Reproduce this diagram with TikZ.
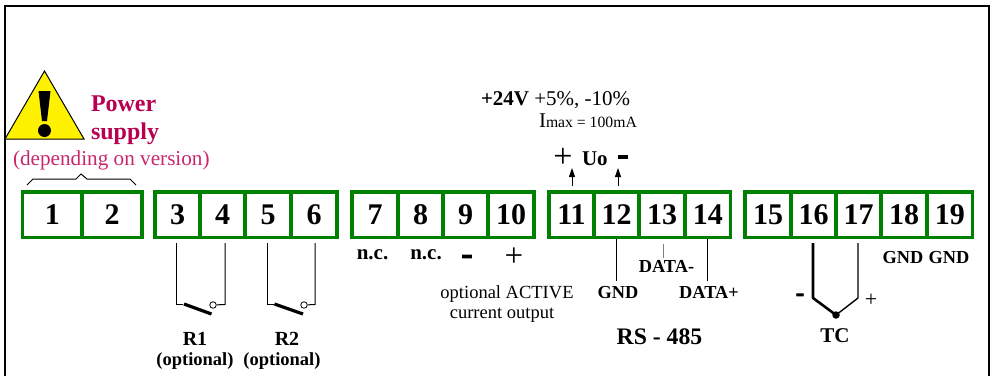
\documentclass[tikz,border=0pt]{standalone}
\usepackage{fontspec}
\setmainfont{Liberation Serif}
\usetikzlibrary{arrows.meta}
\definecolor{termgreen}{RGB}{0,128,0}
\definecolor{powerred}{RGB}{184,0,80}
\definecolor{verpink}{RGB}{200,40,106}
\newcommand{\fsz}[1]{\fontsize{#1pt}{#1pt}\selectfont}
\newcommand{\heavy}{\addfontfeature{FakeBold=2.5}}
\newcommand{\cellnode}[4]{\node[cell,minimum width={(#3-#2)*1pt}] (#1) at ({(#2+#3)/2},214.5) {#4};}
\tikzset{
  cell/.style={draw=termgreen,line width=3.5pt,minimum height=45.5pt,inner sep=0pt,outer sep=0pt,
    text height=20pt,text depth=0pt,font=\bfseries\fsz{30}},
  lbl/.style={inner sep=0pt,outer sep=0pt,anchor=base},
  lbll/.style={inner sep=0pt,outer sep=0pt,anchor=base west},
  bold18/.style={lbl,font=\bfseries\fsz{18.3}},
  wire/.style={black,line width=1pt},
  blade/.style={black,line width=3.2pt},
  upar/.style={black,line width=1pt,-{Triangle[length=9pt,width=6pt]}},
}
\begin{document}
\begin{tikzpicture}[x=1pt,y=-1pt]
\useasboundingbox (0,0) rectangle (992,376);
% frame
\coordinate (fa) at (4.7,376); \coordinate (fb) at (4.7,6); \coordinate (fc) at (989,6); \coordinate (fd) at (989,376);
\draw[black,line width=2pt] (fa) -- (fb) -- (fc) -- (fd);
% warning triangle
\draw[fill=yellow,draw=black,line width=1pt,line join=miter] (44.5,71) -- (84,139) -- (5,139) -- cycle;
\fill[black] (38.5,91) -- (50.5,91) -- (47,121) -- (42,121) -- cycle;
\fill[black] (44.5,130.5) circle (6.5);
% terminals
\cellnode{t1}{22.5}{82}{1}
\cellnode{t2}{82}{142}{2}
\cellnode{t3}{155}{200}{3}
\cellnode{t4}{200}{245}{4}
\cellnode{t5}{245}{291}{5}
\cellnode{t6}{291}{337}{6}
\cellnode{t7}{352}{398}{7}
\cellnode{t8}{398}{443}{8}
\cellnode{t9}{443}{488}{9}
\cellnode{t10}{488}{534}{10}
\cellnode{t11}{549}{594}{11}
\cellnode{t12}{594}{639}{12}
\cellnode{t13}{639}{685}{13}
\cellnode{t14}{685}{730.5}{14}
\cellnode{t15}{745}{791}{15}
\cellnode{t16}{791}{836}{16}
\cellnode{t17}{836}{881}{17}
\cellnode{t18}{881}{927}{18}
\cellnode{t19}{927}{972.5}{19}
% power labels
\node[lbll,text=powerred,font=\bfseries\fsz{24}] (pw) at (91,111) {Power};
\node[lbll,text=powerred,font=\bfseries\fsz{24}] (sp) at (91,139) {supply};
\node[lbll,text=verpink,font=\fsz{21.2}] (dv) at (13,165) {(depending on version)};
% brace
\coordinate (b1) at (27,185); \coordinate (b2) at (33,179); \coordinate (b3) at (76,179); \coordinate (b4) at (81,174);
\coordinate (b5) at (87,179); \coordinate (b6) at (130,179); \coordinate (b7) at (136,185);
\draw[wire] (b1) -- (b2) -- (b3) -- (b4) -- (b5) -- (b6) -- (b7);
% R1
\coordinate (r1a) at (176,243); \coordinate (r1b) at (176,304); \coordinate (r1c) at (183,304);
\coordinate (r1d) at (184,304); \coordinate (r1e) at (211.5,314);
\coordinate (r1f) at (225,243); \coordinate (r1g) at (225,304.5);
\node[circle,draw=black,line width=.8pt,fill=white,minimum size=6.5pt,inner sep=0pt] (r1o) at (213,305) {};
\draw[wire] (r1a) -- (r1b) -- (r1c);
\draw[wire] (r1f) -- (r1g) -- (r1o);
\draw[blade] (r1d) -- (r1e);
% R2
\coordinate (r2a) at (267,243); \coordinate (r2b) at (267,304); \coordinate (r2c) at (274,304);
\coordinate (r2d) at (274.5,304); \coordinate (r2e) at (303,314);
\coordinate (r2f) at (315,243); \coordinate (r2g) at (315,304.5);
\node[circle,draw=black,line width=.8pt,fill=white,minimum size=6.5pt,inner sep=0pt] (r2o) at (304,305) {};
\draw[wire] (r2a) -- (r2b) -- (r2c);
\draw[wire] (r2f) -- (r2g) -- (r2o);
\draw[blade] (r2d) -- (r2e);
\node[lbl,font=\bfseries\fsz{20}] (r1l) at (195,345) {R1};
\node[lbl,font=\bfseries\fsz{18.5}] (r1o2) at (195,365) {(optional)};
\node[lbl,font=\bfseries\fsz{20}] (r2l) at (287,345) {R2};
\node[lbl,font=\bfseries\fsz{18.5}] (r2o2) at (282,365) {(optional)};
% supply
\node[lbll,font=\fsz{21}] (v24) at (481,105) {\textbf{+24V} +5\%, -10\%};
\node[lbll] (imax) at (539,127) {\fsz{21}I\fsz{15.7}max = 100mA};
\node[lbl,font=\fsz{34}] (uop) at (563,167.5) {+};
\node[lbll,font=\bfseries\fsz{21}] (uo) at (582,165) {Uo};
\node[lbl,font=\bfseries\fsz{34}\heavy] (uom) at (623,165) {-};
\coordinate (a1) at (572,186); \coordinate (a2) at (572,168); \coordinate (a3) at (618,186); \coordinate (a4) at (618,168);
\draw[upar] (a1) -- (a2);
\draw[upar] (a3) -- (a4);
% lower labels
\node[lbl,font=\bfseries\fsz{21}] (nc1) at (372.5,259) {n.c.};
\node[lbl,font=\bfseries\fsz{21}] (nc2) at (426,259) {n.c.};
\node[lbl,font=\bfseries\fsz{34}\heavy] (m9) at (467,264.5) {-};
\node[lbl,font=\fsz{33}] (p10) at (514,266) {+};
\node[lbl,font=\fsz{18.5}] (oa) at (507,298) {optional ACTIVE};
\node[lbl,font=\fsz{18.5}] (co) at (502,318) {current output};
% RS-485
\coordinate (g1) at (616,239); \coordinate (g2) at (616,281);
\coordinate (d1) at (663,244); \coordinate (d2) at (663,258);
\coordinate (e1) at (707.5,239); \coordinate (e2) at (707.5,281);
\draw[wire] (g1) -- (g2);
\draw[line width=1pt,black!50] (d1) -- (d2);
\draw[wire] (e1) -- (e2);
\node[lbl,font=\bfseries\fsz{18.3}] (dm) at (666.5,272) {DATA-};
\node[bold18] (gnd) at (618,298) {GND};
\node[lbl,font=\bfseries\fsz{18.3}] (dp) at (709,298) {DATA+};
\node[lbl,font=\bfseries\fsz{23.7}] (rs) at (659.5,344) {RS - 485};
% TC
\coordinate (tc1) at (813,243); \coordinate (tc2) at (813,298);
\coordinate (tc4) at (858,243); \coordinate (tc5) at (858,298);
\node[circle,fill=black,minimum size=7.5pt,inner sep=0pt] (tcd) at (836,315) {};
\draw[black,line width=2.6pt,line join=round] (tc1) -- (tc2) -- (tcd.center);
\draw[black,line width=1.4pt,line join=round] (tc4) -- (tc5) -- (tcd.center);
\node[lbl,font=\bfseries\fsz{26}\heavy] (tcm) at (800,301) {-};
\node[lbl,font=\fsz{22}] (tcp) at (871,306) {+};
\node[lbl,font=\bfseries\fsz{21}] (tcl) at (835,342) {TC};
\node[bold18] (g18) at (903,263) {GND};
\node[bold18] (g19) at (949,263) {GND};
\end{tikzpicture}
\end{document}
